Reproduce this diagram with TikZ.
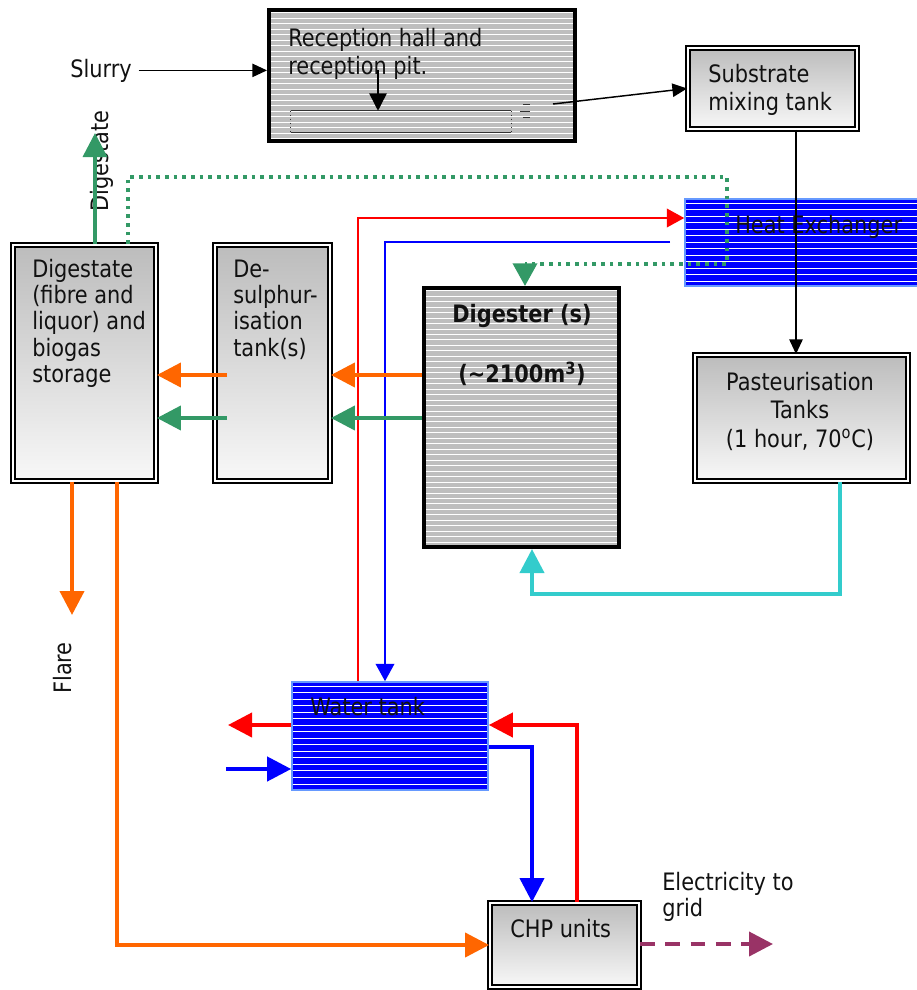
\documentclass[tikz,border=0pt]{standalone}
\usepackage{fontspec}
\setmainfont{DejaVu Sans}[FakeStretch=0.87]
\usetikzlibrary{arrows.meta}
\definecolor{cOrange}{HTML}{FF6600}
\definecolor{cGreen}{HTML}{339966}
\definecolor{cCyan}{HTML}{33CCCC}
\definecolor{cRed}{HTML}{FF0000}
\definecolor{cBlue}{HTML}{0000FF}
\definecolor{cPurple}{HTML}{993366}
\definecolor{cEdge}{HTML}{6699FF}
\definecolor{cGrey}{HTML}{BEBEBE}
\definecolor{cTop}{HTML}{BCBCBC}
\definecolor{cBot}{HTML}{F8F8F8}
\definecolor{cInk}{HTML}{111111}
\begin{document}
\begin{tikzpicture}[x=0.75pt, y=-0.75pt,
  sz/.style 2 args={minimum width=#1*0.75pt, minimum height=#2*0.75pt},
  hatchgrey/.style={rectangle, inner sep=0pt, fill=cGrey, draw=black, line width=3pt,
    path picture={\foreach \k in {0,...,70}
      \draw[white, line width=0.6pt]
        ([yshift={-2pt-\k*4.1pt}]path picture bounding box.north west) --
        ([yshift={-2pt-\k*4.1pt}]path picture bounding box.north east);}},
  hatchblue/.style={rectangle, inner sep=0pt, fill=cBlue, draw=cEdge, line width=1.2pt,
    path picture={\foreach \k in {0,...,40}
      \draw[white, line width=0.75pt]
        ([yshift={-3pt-\k*4.9pt}]path picture bounding box.north west) --
        ([yshift={-3pt-\k*4.9pt}]path picture bounding box.north east);}},
  shadebox/.style={rectangle, inner sep=0pt, draw=black, line width=1.4pt,
    double=white, double distance=1.6pt, top color=cTop, bottom color=cBot},
  label18/.style={inner sep=0pt, text=cInk, font=\fontsize{18}{21}\selectfont},
  fine/.style={draw=black, line width=1.1pt, -{Triangle[length=11pt, width=10pt]}},
  pipe/.style={line width=1.1pt, -{Triangle[length=13pt, width=14pt]}},
  heavy/.style={line width=3pt, -{Triangle[length=18pt, width=18pt]}},
  gdot/.style={draw=cGreen, line width=2.8pt, dash pattern=on 2.8pt off 3.7pt}
]
\useasboundingbox (0,0) rectangle (917,990);

% ---- boxes ----
\node[hatchgrey, sz={306}{131}] (rec) at (422,75.5) {};
\node[shadebox, sz={169}{81}] (subs) at (772.5,88.5) {};
\node[hatchblue, sz={240}{87}] (hx) at (805,242.5) {};
\node[hatchgrey, sz={195}{259}] (dig) at (521.5,417.5) {};
\node[shadebox, sz={115}{236}] (desul) at (272.5,363) {};
\node[shadebox, sz={143}{236}] (store) at (84.5,363) {};
\node[shadebox, sz={213}{126}] (past) at (801.5,418) {};
\node[hatchblue, sz={196}{108}] (tank) at (390,736) {};
\node[shadebox, sz={149}{84}] (chp) at (564.5,945) {};

% reception pit outline inside the hall
\node[draw=none, inner sep=0pt, sz={220}{21}] (pit) at (401,121.5) {};
\draw[black!80, line width=0.7pt] (pit.north west) -- (pit.north east)
  (pit.south west) -- (pit.south east);
\draw[black!80, line width=0.7pt, dash pattern=on 1pt off 2pt]
  (pit.north west) -- (pit.south west) (pit.north east) -- (pit.south east);
\draw[black!80, line width=0.7pt] (523,104) -- (530,104) (520,111) -- (530,111) (523,117) -- (530,117);

% ---- labels ----
\node[label18, anchor=base west] (slurry) at (70,77) {Slurry};
\node[label18, anchor=north west, align=left] (rectxt) at (288,26.4)
  {\strut Reception hall and\\reception pit.};
\node[label18, anchor=north west, align=left, font=\fontsize{18}{21.5}\selectfont] (substxt) at (708,61.9)
  {\strut Substrate\\mixing tank};
\node[label18, anchor=base west] (hxtxt) at (735,233) {Heat Exchanger};
\node[label18, anchor=north, align=center, font=\fontsize{18}{22}\selectfont\bfseries] (digtxt) at (522,301.5)
  {\strut Digester (s)\\[22pt](\textasciitilde 2100m\textsuperscript{3})};
\node[label18, anchor=north west, align=left, font=\fontsize{18}{19.7}\selectfont] (storetxt) at (32,258.6)
  {\strut Digestate\\(fibre and\\liquor) and\\biogas\\storage};
\node[label18, anchor=north west, align=left, font=\fontsize{18}{19.7}\selectfont] (desultxt) at (233,258.6)
  {\strut De-\\sulphur-\\isation\\tank(s)};
\node[label18, anchor=north, align=center, font=\fontsize{18}{21.4}\selectfont] (pasttxt) at (800,370)
  {\strut Pasteurisation\\Tanks\\(1 hour, 70\textsuperscript{o}C)};
\node[label18, anchor=base west] (tanktxt) at (310,715) {Water tank};
\node[label18, anchor=base west] (chptxt) at (510,937) {CHP units};
\node[label18, anchor=north west, align=left, font=\fontsize{18}{20}\selectfont] (gridtxt) at (662,871.3)
  {\strut Electricity to\\grid};
\node[label18, rotate=90] (outtxt) at (102,161) {Digestate};
\node[label18, rotate=90] (flaretxt) at (63,668) {Flare};

% ---- connectors ----
\coordinate (slurrygap) at ([xshift=5pt]slurry.east);
\draw[fine] (slurrygap) -- (rec.west |- slurrygap);

\coordinate (pitdrop) at (378,70);
\draw[fine, -{Triangle[length=13pt, width=13pt]}] (pitdrop) -- (pit.north -| pitdrop);

\coordinate (pitout) at (553,104);
\draw[fine] (pitout) -- (subs.west);

\coordinate (mixx) at (796,0);
\draw[fine] (subs.south -| mixx) -- (past.north -| mixx);

% recirculated digestate (dotted)
\coordinate (gx) at (128,0);
\coordinate (hxa) at (727,177);
\coordinate (hxb) at (525,264);
\draw[gdot] (store.north -| gx) |- (hxa) |- (hxb);
\draw[cGreen, line width=2.8pt, -{Triangle[length=17pt, width=18pt]}] (hxb) -- (dig.north -| hxb);

% heating water loop to the heat exchanger
\coordinate (rx) at (358,218);
\draw[pipe, cRed] (tank.north -| rx) |- (hx.west |- rx);
\coordinate (bstart) at (670,242);
\coordinate (bx) at (385,242);
\draw[pipe, cBlue] (bstart) -| (tank.north -| bx);

% biogas and digestate flows
\coordinate (oy) at (0,375);
\coordinate (gy) at (0,418);
\coordinate (dsx) at ([xshift=9.75pt]desul.west);
\draw[heavy, cOrange] (dig.west |- oy) -- (desul.east |- oy);
\draw[heavy, cGreen] (dig.west |- gy) -- (desul.east |- gy);
\draw[heavy, cOrange] (dsx |- oy) -- (store.east |- oy);
\draw[heavy, cGreen] (dsx |- gy) -- (store.east |- gy);

\coordinate (dgx) at (95,133);
\draw[heavy, cGreen, line width=2.6pt] (store.north -| dgx) -- (dgx);

\coordinate (flare) at (72,615);
\draw[heavy, cOrange] (store.south -| flare) -- (flare);

\coordinate (ox) at (117,0);
\draw[heavy, cOrange] (store.south -| ox) |- (chp.west);

% pasteurised feed back to the digester
\coordinate (cx) at (840,594);
\coordinate (cx2) at (532,594);
\draw[heavy, cCyan] (past.south -| cx) -- (cx) -- (cx2) -- (dig.south -| cx2);

% water tank circuits
\coordinate (wr) at (228,725);
\draw[heavy, cRed] (tank.west |- wr) -- (wr);
\coordinate (wb) at (226,769);
\draw[heavy, cBlue] (wb) -- (tank.west |- wb);
\coordinate (crx) at (577,725);
\draw[heavy, cRed] (chp.north -| crx) -- (crx) -- (tank.east |- crx);
\coordinate (cbx) at (532,747);
\draw[heavy, cBlue] (tank.east |- cbx) -- (cbx) -- (chp.north -| cbx);

% electricity export
\coordinate (grid) at (773,944);
\draw[heavy, cPurple, dash pattern=on 11pt off 8pt] (chp.east |- grid) -- (grid);
\end{tikzpicture}
\end{document}
